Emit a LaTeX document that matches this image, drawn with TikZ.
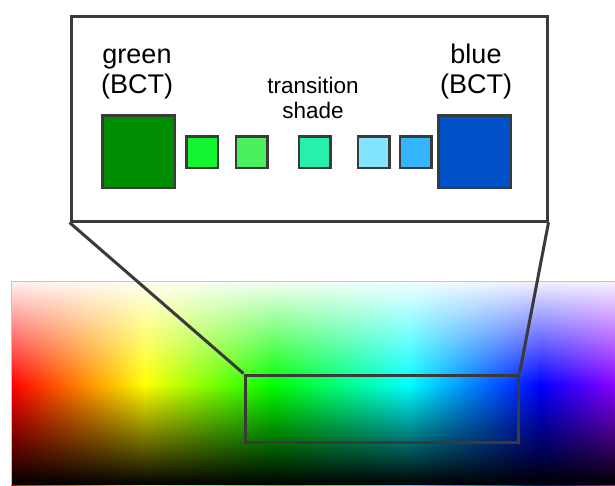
\documentclass[tikz,border=0pt]{standalone}
\usepackage{fontspec}
\setmainfont{Liberation Sans}
\usetikzlibrary{fadings}
\definecolor{hR}{RGB}{255,0,0}
\definecolor{hY}{RGB}{255,255,0}
\definecolor{hG}{RGB}{0,255,0}
\definecolor{hC}{RGB}{0,255,255}
\definecolor{hB}{RGB}{0,0,255}
\definecolor{hP}{RGB}{140,0,255}
\definecolor{edge}{RGB}{58,58,58}
\definecolor{bctgreen}{RGB}{0,140,0}
\definecolor{bctblue}{RGB}{0,80,200}
\definecolor{sqA}{RGB}{20,245,50}
\definecolor{sqB}{RGB}{75,240,95}
\definecolor{sqC}{RGB}{40,240,170}
\definecolor{sqD}{RGB}{130,228,255}
\definecolor{sqE}{RGB}{50,180,255}
\pgfdeclarehorizontalshading{huebar}{100bp}{color(0bp)=(hR); color(25bp)=(hR); color(36.1bp)=(hY); color(46.75bp)=(hG); color(57.85bp)=(hC); color(68.85bp)=(hB); color(75bp)=(hP); color(100bp)=(hP)}
\tikzfading[name=whitefade, top color=transparent!5, bottom color=transparent!100]
\tikzfading[name=blackfade, top color=transparent!100, bottom color=transparent!0]
\begin{document}
\begin{tikzpicture}[x=1pt,y=-1pt,
  framebox/.style={draw=edge, line width=3, inner sep=0},
  bigsq/.style={draw=edge, line width=2.5, minimum size=72.5, inner sep=0},
  smallsq/.style={draw=edge, line width=2.5, minimum size=31.5, inner sep=0},
  biglabel/.style={align=center, inner sep=0, font=\fontsize{27}{30}\selectfont},
  smalllabel/.style={align=center, inner sep=0, font=\fontsize{22.5}{25}\selectfont},
  link/.style={draw=edge, line width=3}]
\useasboundingbox (0,0) rectangle (615,485);
\fill[white] (0,0) rectangle (615,485);
% spectrum
\shade[shading=huebar] (11,281) rectangle (615,485);
\fill[white, path fading=whitefade] (11,281) rectangle (615,385);
\fill[black, path fading=blackfade] (11,385) rectangle (615,485);
\draw[gray!45, line width=1] (11,485) -- (11,281.5) -- (615,281.5);
% zoomed region
\node[framebox, minimum width=273, minimum height=67] (zoomrect) at (381.5,408.5) {};
% callout box
\node[framebox, fill=white, minimum width=476, minimum height=205] (box) at (309,118.5) {};
\draw[link] (box.south west) -- (zoomrect.north west);
\draw[link] (box.south east) -- (zoomrect.north east);
% squares
\node[bigsq, fill=bctgreen] (green) at (138.5,151.5) {};
\node[bigsq, fill=bctblue] (blue) at (474.5,151.5) {};
\node[smallsq, fill=sqA] (s1) at (202,152) {};
\node[smallsq, fill=sqB] (s2) at (251.5,152) {};
\node[smallsq, fill=sqC] (s3) at (314.5,152) {};
\node[smallsq, fill=sqD] (s4) at (373.5,152) {};
\node[smallsq, fill=sqE] (s5) at (415.5,152) {};
% labels
\node[biglabel, anchor=base] (lg) at (137,93) {green\\(BCT)};
\node[biglabel, anchor=base] (lb) at (476,93) {blue\\(BCT)};
\node[smalllabel, anchor=base] (lt) at (313,118) {transition\\shade};
\end{tikzpicture}
\end{document}
